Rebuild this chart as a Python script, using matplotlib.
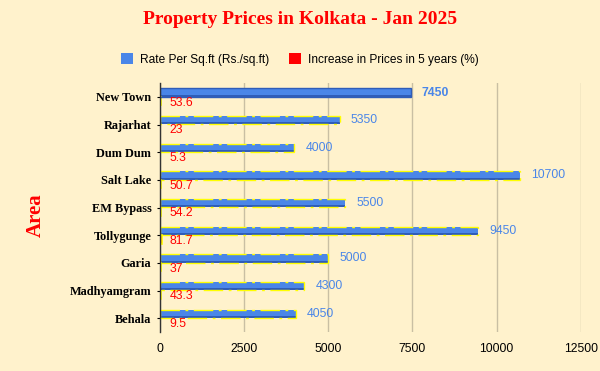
import matplotlib
matplotlib.use("Agg")
import matplotlib.pyplot as plt
import numpy as np
from matplotlib.patches import Patch

areas = ["New Town", "Rajarhat", "Dum Dum", "Salt Lake", "EM Bypass",
         "Tollygunge", "Garia", "Madhyamgram", "Behala"]
rate = [7450, 5350, 4000, 10700, 5500, 9450, 5000, 4300, 4050]
increase = [53.6, 23, 5.3, 50.7, 54.2, 81.7, 37, 43.3, 9.5]
xticks = [0, 2500, 5000, 7500, 10000, 12500]

bg = "#FFF2CC"
blue = "#4A86E8"
dark_blue = "#2F5DB8"
red = "#FF0000"

fig = plt.figure(figsize=(6, 3.71), dpi=100, facecolor=bg)
ax = fig.add_axes([0.266, 0.105, 0.702, 0.671], facecolor=bg)

y = np.arange(len(areas))
h = 0.30
yb = y - 0.16
yr = y + 0.15

# blue bars with darker bottom "shadow"
ax.barh(yb, rate, height=h, color=dark_blue, zorder=3)
ax.barh(yb - h * 0.12, rate, height=h * 0.76, color=blue, zorder=3)
for i, v in enumerate(rate):
    if i == 0:
        ax.barh(yb[i], v, height=h, facecolor="none", edgecolor=dark_blue,
                linewidth=1.0, zorder=4)
    else:
        ax.barh(yb[i], v, height=h, facecolor="none", edgecolor="yellow",
                linewidth=1.0, linestyle=(0, (14, 4, 2, 4)), zorder=4)

# red bars (tiny)
ax.barh(yr, increase, height=h, color=red, edgecolor="yellow",
        linewidth=1.2, zorder=3)

for i, v in enumerate(rate):
    ax.text(v + 330, yb[i], f"{v}", color=blue, fontsize=8.8,
            fontweight="bold" if i == 0 else "normal",
            family="Liberation Sans", va="center", ha="left", zorder=5)
for i, v in enumerate(increase):
    ax.text(300, yr[i] + 0.06, f"{v:g}", color=red, fontsize=8.8,
            family="Liberation Sans", va="center", ha="left", zorder=5)

ax.set_ylim(len(areas) - 0.5, -0.5)
ax.set_xlim(0, 12500)
ax.set_xticks(xticks)
ax.set_xticklabels([str(t) for t in xticks], family="Liberation Sans", fontsize=8.7)
ax.set_yticks(y)
ax.set_yticklabels(areas, family="Liberation Serif", fontweight="bold", fontsize=8.8)
ax.tick_params(axis="x", length=0, pad=8)
ax.tick_params(axis="y", length=2, pad=4)
ax.grid(axis="x", color="#C9BFA3", linewidth=1, zorder=0)
for s in ["top", "right", "bottom"]:
    ax.spines[s].set_visible(False)
ax.spines["left"].set_color("#333333")
ax.spines["left"].set_linewidth(1)
ax.spines["left"].set_zorder(6)

ax.set_ylabel("Area", color=red, family="Liberation Serif", fontweight="bold",
              fontsize=15)
ax.yaxis.set_label_coords(-0.27, 0.47)

fig.text(0.5, 0.948, "Property Prices in Kolkata - Jan 2025", color=red,
         family="Liberation Serif", fontweight="bold", fontsize=14,
         ha="center", va="center")

handles = [Patch(facecolor=blue, edgecolor="none"),
           Patch(facecolor=red, edgecolor="none")]
leg = fig.legend(handles, ["Rate Per Sq.ft (Rs./sq.ft)", "Increase in Prices in 5 years (%)"],
                 loc="center", bbox_to_anchor=(0.5, 0.84), ncol=2, frameon=False,
                 prop={"family": "Liberation Sans", "size": 8.6},
                 handlelength=1.0, handleheight=1.0, columnspacing=1.6, handletextpad=0.6)

fig.savefig("out.png", dpi=100, facecolor=bg)
